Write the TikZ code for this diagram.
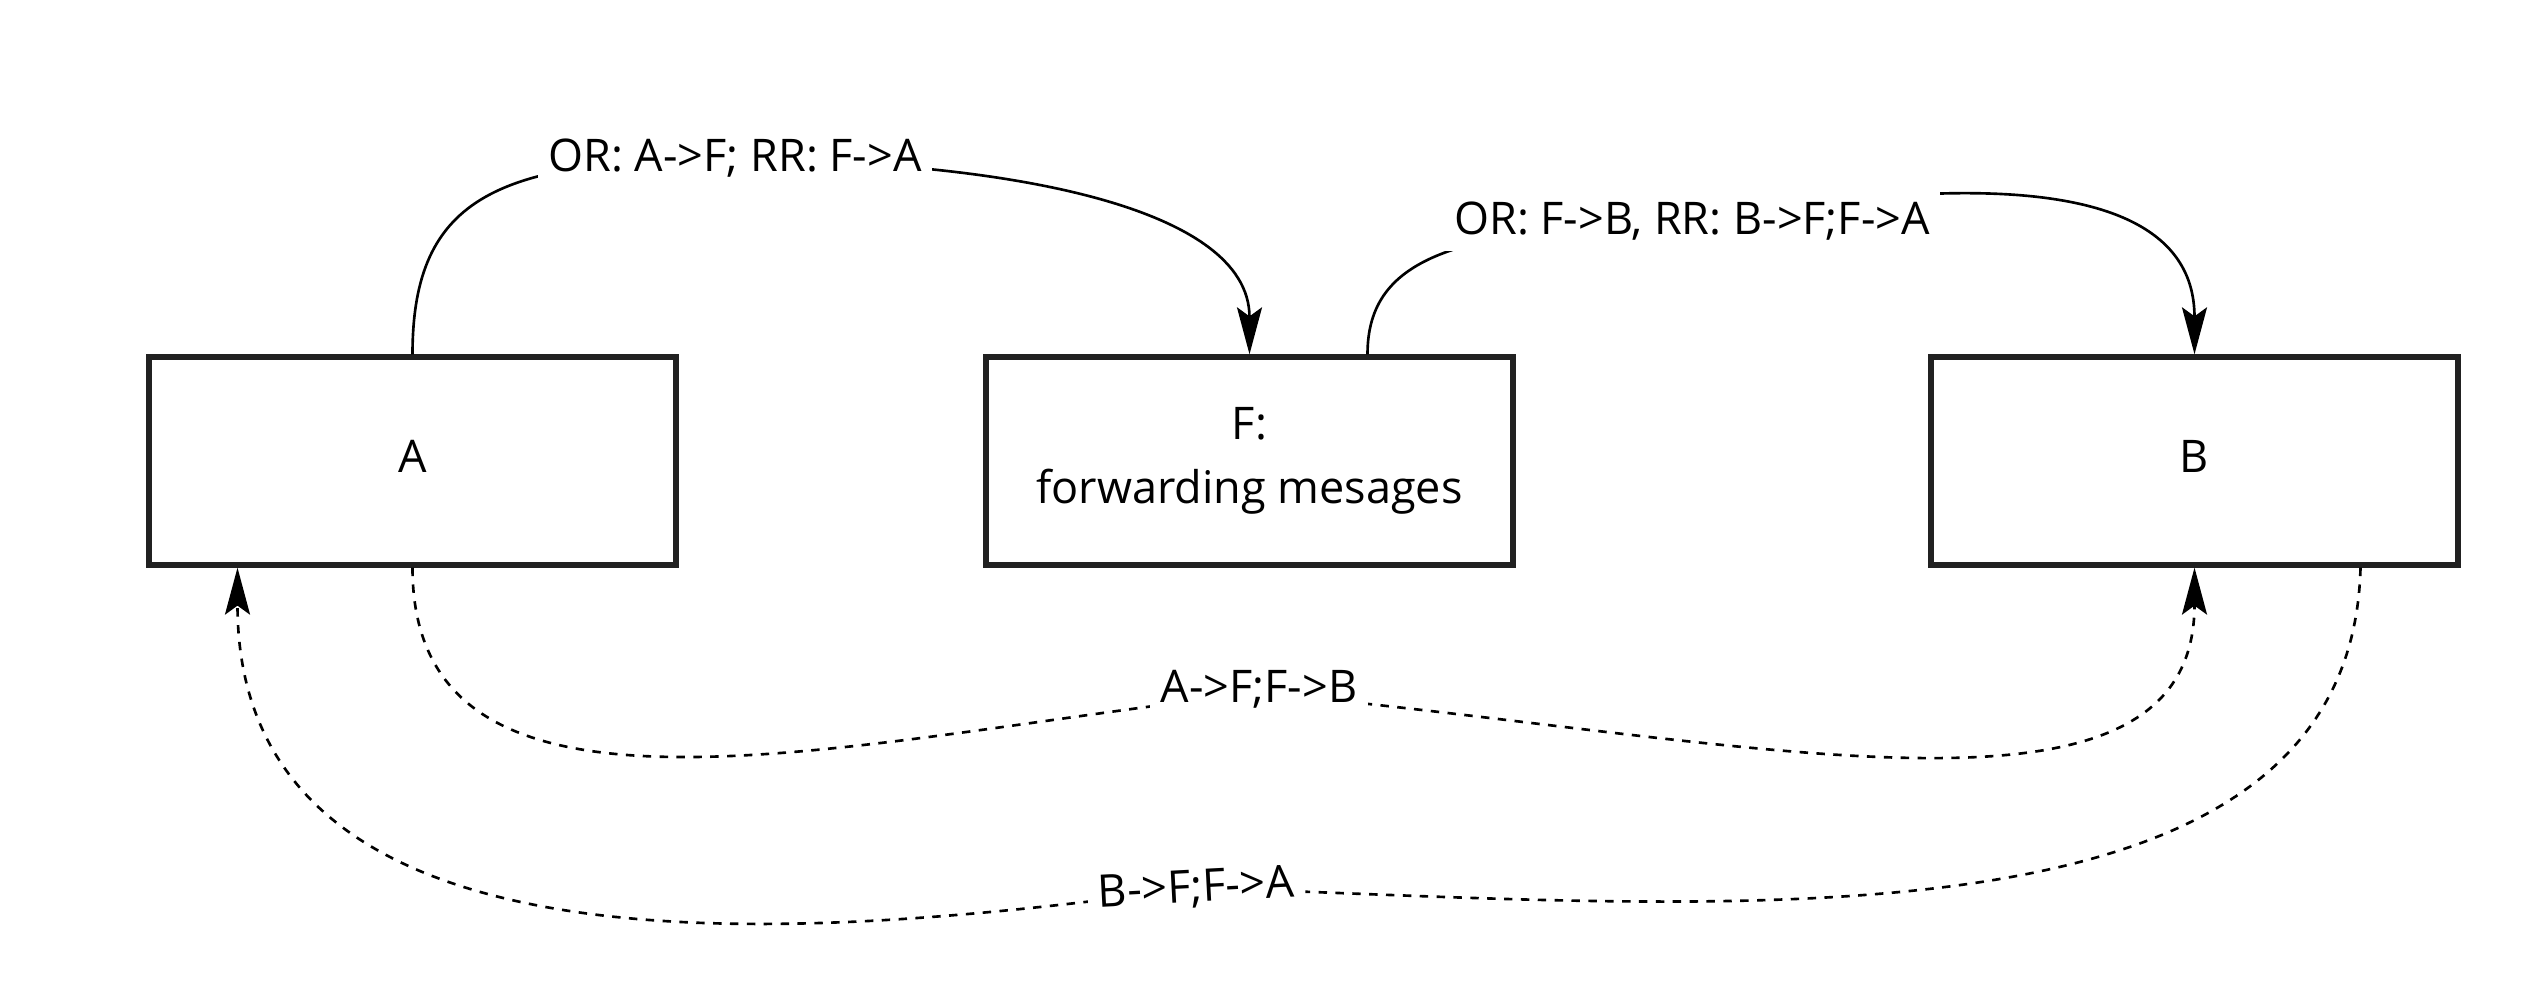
\documentclass[tikz,border=0pt]{standalone}
\usepackage{fontspec}
\setmainfont{Open Sans}
\usetikzlibrary{arrows.meta}
\tikzset{
	boite/.style={draw=black!87,line width=1.5pt,minimum width=5.27cm,minimum height=2.08cm,inner sep=0pt,text depth=0.1cm,align=center,font=\fontsize{12.8}{18.1}\selectfont},
	etiq/.style={fill=white,inner sep=3pt,anchor=base,font=\fontsize{12.8}{13.7}\selectfont},
	fleche/.style={line width=0.75pt,-{Stealth[length=4.7mm,width=2.5mm,inset=0.9mm]}},
	pointille/.style={fleche,dash pattern=on 2.4pt off 2.4pt}
}
\begin{document}
\begin{tikzpicture}
				\fill[white,use as bounding box] (0,0) rectangle (25.22,9.88);
				% Boîtes
				\node [boite] (A) at (4.125,5.27) {A};
				\node [boite,text depth=0.11cm] (F) at (12.495,5.27) {F:\\forwarding mesages};
				\node [boite] (B) at (21.945,5.27) {B};
				\coordinate (m1) at (7.35,8.28);
				\coordinate (m2) at (16.93,7.66);
				\coordinate (m3) at (12.6,2.95);
				\coordinate (m4) at (11.98,1.0);
				% Flèches
				\draw [fleche] (A.north) .. controls +(0,1.59) and +(-2.35,0.02) .. (m1) .. controls +(2.6,0) and +(0,1.5) .. (F.north);
				\draw [fleche] ([xshift=1.18cm]F.north) .. controls +(0,0.99) and +(-2.33,-0.06) .. (m2) .. controls +(1.67,0.29) and +(0,2.09) .. (B.north);
				\draw [pointille] (A.south) .. controls +(0,-2.93) and +(-4.1,-0.45) .. (m3) .. controls +(4.9,-0.45) and +(0,-2.83) .. (B.south);
				\draw [pointille] ([xshift=1.66cm]B.south) .. controls +(-0.1,-4.03) and +(5.02,-0.15) .. (m4) .. controls +(-3.48,-0.45) and +(0,-4.38) .. ([xshift=-1.75cm]A.south);
				% Etiquettes
				\node [etiq] (l1) at (7.35,8.16) {OR: A->F; RR: F->A};
				\node [etiq] (l2) at (16.92,7.53) {OR: F->B, RR: B->F;F->A};
				\node [etiq] (l3) at (12.59,2.85) {A->F;F->B};
				\node [etiq,rotate=3] (l4) at (11.97,0.86) {B->F;F->A};
\end{tikzpicture}
\end{document}
